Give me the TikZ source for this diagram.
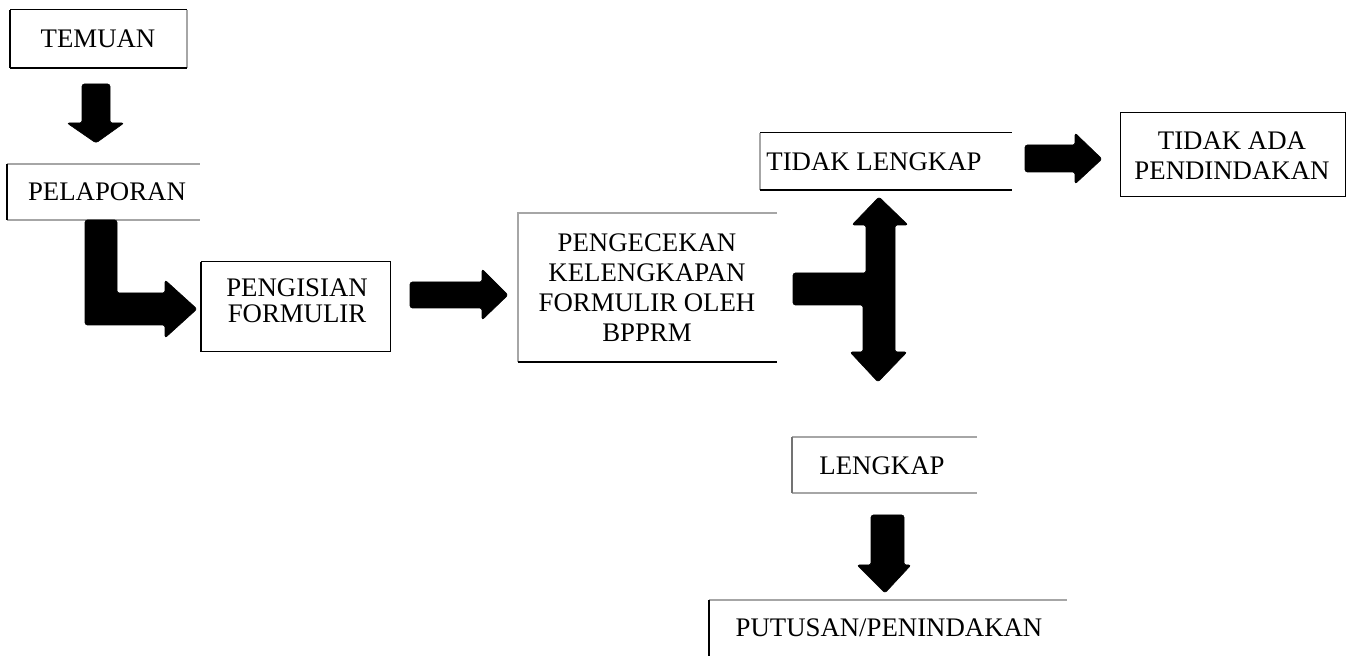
\documentclass[tikz,border=0pt]{standalone}
\usepackage{fontspec}
\setmainfont{Liberation Serif}
\begin{document}
\begin{tikzpicture}[x=0.5pt,y=-0.5pt,
  lbl/.style={font=\fontsize{13.4}{15}\selectfont, align=center, inner sep=0pt},
  thickedge/.style={draw=black, line width=1pt},
  thinedge/.style={draw=black, line width=0.5pt},
  greyedge/.style={draw=black!35, line width=0.8pt},
  blockarrow/.style={fill=black, draw=black, line width=0.3pt, rounded corners=1.2pt}]
\useasboundingbox (0,0) rectangle (1357,656);
% TEMUAN
\draw[thinedge] (10,10) -- (187,10);
\draw[greyedge] (187,10) -- (187,68);
\draw[thickedge] (10,68) -- (187,68);
\draw[thickedge] (10,10) -- (10,68);
\node[lbl] (temuan) at (98,39) {TEMUAN};
% PELAPORAN
\draw[greyedge] (7,164) -- (200,164);
\draw[greyedge] (7,220) -- (200,220);
\draw[thickedge] (7,164) -- (7,220);
\node[lbl] (pelaporan) at (107,192) {PELAPORAN};
% PENGISIAN
\draw[thinedge] (201,262) -- (390,262) -- (390,352) -- (201,352);
\draw[thickedge] (201,262) -- (201,352);
\node[lbl, font=\fontsize{13.4}{13.2}\selectfont] (pengisian) at (297,301) {PENGISIAN\\FORMULIR};
% PENGECEKAN
\draw[greyedge] (777,213) -- (518,213) -- (518,362);
\draw[thickedge] (518,362) -- (777,362);
\node[lbl] (pengecekan) at (647,288) {PENGECEKAN\\KELENGKAPAN\\FORMULIR OLEH\\BPPRM};
% TIDAK LENGKAP
\draw[thinedge] (760,133) -- (1012,133);
\draw[greyedge] (760,133) -- (760,190);
\draw[thickedge] (760,190) -- (1012,190);
\node[lbl] (tidaklengkap) at (874,162) {TIDAK LENGKAP};
% TIDAK ADA
\draw[thinedge] (1120,113) rectangle (1345,197);
\node[lbl] (tidakada) at (1232,156) {TIDAK ADA\\PENDINDAKAN};
% LENGKAP
\draw[greyedge] (977,437) -- (792,437);
\draw[greyedge] (792,493) -- (977,493);
\draw[draw=black!55, line width=1pt] (792,437) -- (792,493);
\node[lbl] (lengkap) at (882,466) {LENGKAP};
% PUTUSAN
\draw[greyedge] (709,600) -- (1067,600);
\draw[thickedge] (709,600) -- (709,656);
\node[lbl] (putusan) at (889,628) {PUTUSAN/PENINDAKAN};
% block arrows
\fill[blockarrow] (82,84) -- (110,84) -- (110,123) -- (124,123) -- (96,143) -- (67,123) -- (82,123) -- cycle;
\fill[blockarrow] (85,220) -- (117,220) -- (117,293) -- (165,293) -- (165,280) -- (197,309) -- (165,338) -- (165,325) -- (85,325) -- cycle;
\fill[blockarrow] (410,282) -- (482,282) -- (482,269) -- (508,295) -- (482,320) -- (482,308) -- (410,308) -- cycle;
\fill[blockarrow] (793,273) -- (866,273) -- (866,225) -- (852,225) -- (879,197) -- (908,225) -- (895,225) -- (895,352) -- (907,352) -- (878,382) -- (850,352) -- (863,352) -- (863,305) -- (793,305) -- cycle;
\fill[blockarrow] (1025,145) -- (1075,145) -- (1075,133) -- (1102,159) -- (1075,184) -- (1075,172) -- (1025,172) -- cycle;
\fill[blockarrow] (871,515) -- (904,515) -- (904,565) -- (911,565) -- (885,593) -- (857,565) -- (871,565) -- cycle;
\end{tikzpicture}
\end{document}
